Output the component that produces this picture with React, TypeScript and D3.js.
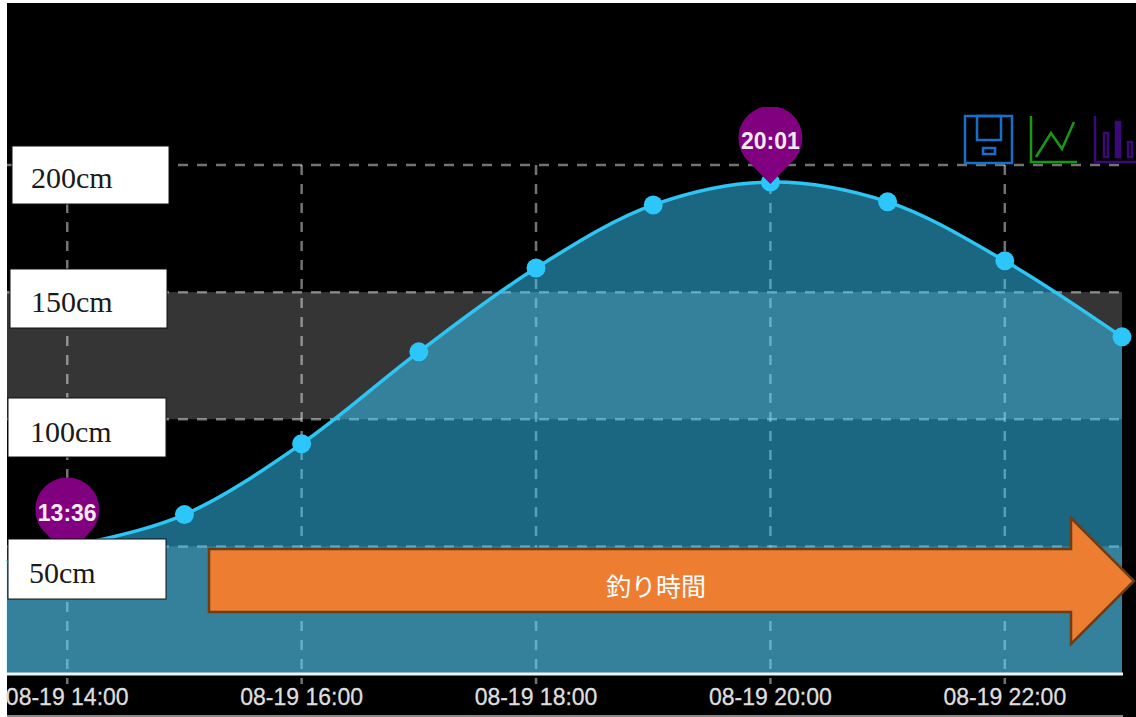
import React from 'react';
import * as d3 from 'd3';

// tide series
const times = ['13:29', '14:00', '15:00', '16:00', '17:00', '18:00', '19:00', '20:00', '21:00', '22:00', '23:00'];
const heights = [44, 49.5, 62.5, 90.4, 126.5, 159.5, 184.3, 193.3, 185.5, 162.3, 132.4];
const markerTimes = ['14:00', '15:00', '16:00', '17:00', '18:00', '19:00', '20:00', '21:00', '22:00', '23:00'];
const xTicks = ['14:00', '16:00', '18:00', '20:00', '22:00'];
const yTicks = [50, 100, 150, 200];
const bands = [[0, 50], [100, 150]];
const pinLabels = ['13:36', '20:01'];
const pinTimes = ['14:00', '20:00'];
const pinValues = [46.4, 192.5];
const boxLabels = ['200cm', '150cm', '100cm', '50cm'];
const arrowLabel = '釣り時間';

const WIDTH = 1136;
const HEIGHT = 717;
const LEFT = 7;
const RIGHT = 1122;

const toDate = (t: string) => {
  const [h, m] = t.split(':').map(Number);
  return new Date(2020, 7, 19, h, m);
};

const x = d3.scaleTime().domain([toDate('13:29'), toDate('23:00')]).range([LEFT - 0.3, RIGHT]);
const y = d3.scaleLinear().domain([0, 200]).range([673.5, 165]);
const fmt = d3.timeFormat('%m-%d %H:%M');

const series = times.map((t, i) => ({ date: toDate(t), value: heights[i] }));
const line = d3.line<{ date: Date; value: number }>()
  .x(d => x(d.date))
  .y(d => y(d.value))
  .curve(d3.curveCatmullRom.alpha(0.5));
const area = d3.area<{ date: Date; value: number }>()
  .x(d => x(d.date))
  .y0(y(0))
  .y1(d => y(d.value))
  .curve(d3.curveCatmullRom.alpha(0.5));

const PIN_R = 32;
const PIN_H = 46;

// teardrop: head circle plus tangents down to the tip
const pinPath = (tx: number, ty: number) => {
  const cy = ty - PIN_H;
  const a = Math.acos(PIN_R / PIN_H);
  const p = d3.path();
  const start = Math.PI / 2 - a;
  const end = Math.PI / 2 + a;
  p.moveTo(tx, ty);
  p.lineTo(tx + PIN_R * Math.cos(start), cy + PIN_R * Math.sin(start));
  p.arc(tx, cy, PIN_R, start, end, true);
  p.closePath();
  return p.toString();
};

const boxes = [
  { x: 12, y: 146, w: 157, h: 58, tx: 31, ty: 188 },
  { x: 10, y: 269, w: 157, h: 59, tx: 31, ty: 312 },
  { x: 8, y: 398, w: 158, h: 59, tx: 30, ty: 442 },
  { x: 8, y: 539, w: 158, h: 60, tx: 29, ty: 583 },
];

export default function App() {
  return (
    <svg
      width={WIDTH}
      height={HEIGHT}
      viewBox={`0 0 ${WIDTH} ${HEIGHT}`}
      style={{ position: 'absolute', left: 0, top: 0, background: '#fff' }}
    >
      <defs>
        <clipPath id="pin-clip">
          <rect x={0} y={107} width={WIDTH} height={HEIGHT} />
        </clipPath>
      </defs>
      <rect x={LEFT} y={3} width={WIDTH - LEFT} height={HEIGHT - 3} fill="#000" />

      {bands.map(b => (
        <rect key={b[0]} x={LEFT} y={y(b[1])} width={RIGHT - LEFT} height={y(b[0]) - y(b[1])} fill="#353535" />
      ))}

      {/* grid sits under the area so it picks up the teal */}
      {yTicks.map(v => (
        <line key={v} x1={LEFT} x2={RIGHT} y1={y(v)} y2={y(v)} stroke="#fff" strokeOpacity={0.45} strokeWidth={2.5} strokeDasharray="10 9" />
      ))}
      {xTicks.map(t => (
        <line key={t} x1={x(toDate(t))} x2={x(toDate(t))} y1={y(200)} y2={684} stroke="#fff" strokeOpacity={0.45} strokeWidth={2.5} strokeDasharray="10 9" />
      ))}

      <path d={area(series) ?? ''} fill="#36ccff" fillOpacity={0.5} />

      <path d={line(series) ?? ''} fill="none" stroke="#2ec5f5" strokeWidth={3.5} />
      {markerTimes.map(t => (
        <circle key={t} cx={x(toDate(t))} cy={y(heights[times.indexOf(t)])} r={9.5} fill="#2cc6fb" />
      ))}

      <line x1={LEFT} x2={RIGHT + 1} y1={674} y2={674} stroke="#f2f2f2" strokeWidth={3} />
      <line x1={LEFT} x2={RIGHT + 1} y1={716} y2={716} stroke="#8a8a8a" strokeWidth={2} />

      {pinLabels.map((label, i) => {
        const tx = x(toDate(pinTimes[i]));
        const ty = y(pinValues[i]);
        return (
          <g key={label} clipPath="url(#pin-clip)">
            <path d={pinPath(tx, ty)} fill="#800080" />
            <text x={tx} y={ty - 35} textAnchor="middle" fontFamily="'Liberation Sans'" fontWeight="bold" fontSize={23} fill="#f4eaf4">
              {label}
            </text>
          </g>
        );
      })}

      {/* toolbox icons */}
      <g fill="none" stroke="#186fc9" strokeWidth={2.5}>
        <rect x={965} y={116} width={47} height={47} />
        <rect x={977} y={116} width={24} height={24} />
        <rect x={983} y={148} width={12} height={6} />
      </g>
      <g fill="none" stroke="#169a16" strokeWidth={2.5}>
        <path d="M1031 116V162H1077" />
        <path d="M1036 157L1051 133L1062 149L1074 122" />
      </g>
      <g fill="none" stroke="#3c0a78" strokeWidth={2.5}>
        <path d="M1095 116V162H1136" />
        <rect x={1104} y={133} width={4} height={24} />
        <rect x={1116} y={122} width={4} height={35} fill="#3c0a78" />
        <rect x={1128} y={142} width={4} height={15} />
      </g>

      {xTicks.map(t => (
        <text key={t} x={x(toDate(t))} y={705} textAnchor="middle" fontFamily="'Liberation Sans'" fontSize={23} fill="#dedede" stroke="#dedede" strokeWidth={0.3}>
          {fmt(toDate(t))}
        </text>
      ))}

      {boxLabels.map((label, i) => {
        const b = boxes[i];
        return (
          <g key={label}>
            <rect x={b.x} y={b.y} width={b.w} height={b.h} fill="#fff" stroke="#111" strokeWidth={1} />
            <text x={b.tx} y={b.ty} fontFamily="'Liberation Serif'" fontSize={30} fill="#1a1a1a">
              {label}
            </text>
          </g>
        );
      })}

      <path
        d="M209 549H1071V518L1134 581L1071 644V612H209Z"
        fill="#ed7d31"
        stroke="#6f3d14"
        strokeWidth={2.5}
      />
      <text x={656} y={596} textAnchor="middle" fontFamily="'Noto Sans CJK JP'" fontSize={25} fill="#fff">
        {arrowLabel}
      </text>
    </svg>
  );
}
